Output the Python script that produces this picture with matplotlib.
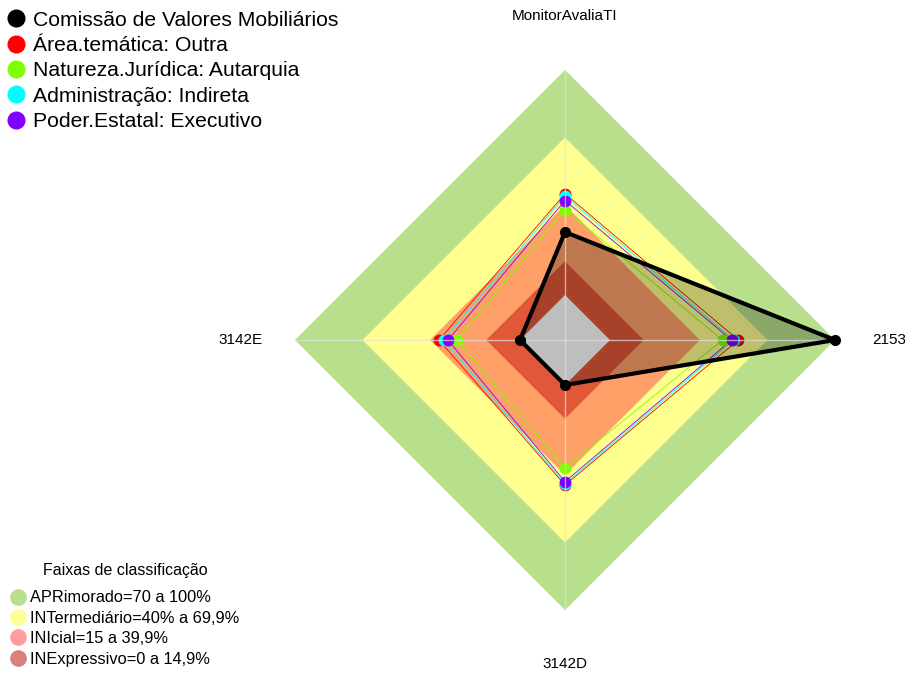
import numpy as np
import matplotlib
matplotlib.use("Agg")
import matplotlib.pyplot as plt
from matplotlib.lines import Line2D

plt.rcParams['font.family'] = ['Liberation Sans', 'DejaVu Sans']

# eixos do radar (sentido anti-horario a partir do topo)
eixos = ['MonitorAvaliaTI', '3142E', '3142D', '2153']

# valores (%) de cada grupo em cada eixo
comissao = [28, 0, 0, 100]
area_tematica = [45, 36, 44.5, 57]
natureza = [38, 28, 37, 50]
administracao = [44, 34, 44, 55]
poder = [42, 32, 43, 54]

series = [
    ('Comissão de Valores Mobiliários', comissao, 'black'),
    ('Área.temática: Outra', area_tematica, '#FF0000'),
    ('Natureza.Jurídica: Autarquia', natureza, '#7FFF00'),
    ('Administração: Indireta', administracao, '#00FFFF'),
    ('Poder.Estatal: Executivo', poder, '#8000FF'),
]

# faixas de classificacao
faixas_lim = [100, 70, 40, 15]
faixas_cor = ['#B8E08C', '#FFFF90', '#FFA068', '#E05838']
faixas_leg = ['APRimorado=70 a 100%', 'INTermediário=40% a 69,9%',
              'INIcial=15 a 39,9%', 'INExpressivo=0 a 14,9%']
faixas_leg_cor = ['#B8E08C', '#FFFF99', '#FF9E9E', '#D88080']

hole = 1 / 6.0
ang = np.deg2rad([90, 180, 270, 0])


def xy(vals):
    r = hole + (1 - hole) * np.asarray(vals, dtype=float) / 100.0
    x = r * np.cos(ang)
    y = r * np.sin(ang)
    return np.append(x, x[0]), np.append(y, y[0])


fig = plt.figure(figsize=(9.05, 6.73), dpi=100)
ax = fig.add_axes([0, 0, 1, 1])
ax.set_xlim(-565 / 270, 340 / 270)
ax.set_ylim(-333 / 270, 340 / 270)
ax.axis('off')

# fundo com as faixas
for lim, cor in zip(faixas_lim, faixas_cor):
    x, y = xy([lim] * 4)
    ax.fill(x, y, color=cor, lw=0, zorder=1)
# centro cinza fica por cima do preenchimento
x, y = xy([0] * 4)
ax.fill(x, y, color='#BEBEBE', lw=0, zorder=5.5)

# linhas dos eixos
for a in ang:
    ax.plot([0, np.cos(a)], [0, np.sin(a)], color='#E0E0E0', lw=1, alpha=0.7, zorder=5.6)

for lab, a in zip(eixos, ang):
    ax.text(1.2 * np.cos(a), 1.2 * np.sin(a), lab, ha='center', va='center', fontsize=11)

# grupos de comparacao
for nome, vals, cor in series[1:]:
    x, y = xy(vals)
    ax.plot(x, y, color=cor, lw=0.6, zorder=3)
    ax.plot(x[:-1], y[:-1], 'o', color=cor, ms=7.5, zorder=4)

# orgao avaliado
nome, vals, cor = series[0]
x, y = xy(vals)
ax.fill(x, y, color='black', alpha=0.25, lw=0, zorder=5)
ax.plot(x, y, color='black', lw=3, zorder=6)
ax.plot(x[:-1], y[:-1], 'o', color='black', ms=7, zorder=7)

h1 = [Line2D([], [], ls='none', marker='o', ms=12, color=c) for _, _, c in series]
leg1 = ax.legend(h1, [s[0] for s in series], loc='upper left', bbox_to_anchor=(-0.008, 1.006),
                 frameon=False, fontsize=15.2, handlelength=0.8, handletextpad=0.4,
                 labelspacing=0.3, borderpad=0.2)
ax.add_artist(leg1)

h2 = [Line2D([], [], ls='none', marker='o', ms=11, color=c) for c in faixas_leg_cor]
leg2 = ax.legend(h2, faixas_leg, title='Faixas de classificação', title_fontsize=11.5,
                 loc='lower left', bbox_to_anchor=(-0.002, -0.01), frameon=False, fontsize=11.8,
                 handlelength=0.8, handletextpad=0.35, labelspacing=0.33, borderpad=0.3)
leg2._legend_box.sep = 9

fig.savefig('out.png', dpi=100)
